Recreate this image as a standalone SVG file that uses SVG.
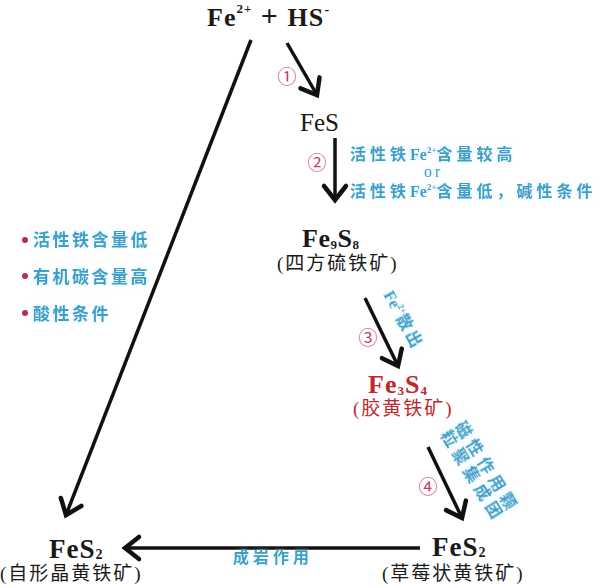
<svg xmlns="http://www.w3.org/2000/svg" width="600" height="588" viewBox="0 0 600 588">
<defs>
<marker id="ah" markerUnits="userSpaceOnUse" markerWidth="40" markerHeight="40" viewBox="-20 -20 40 40" refX="0" refY="0" orient="auto">
<path d="M-14,-11 L0,0 L-14,11" fill="none" stroke="#111" stroke-width="4.5" stroke-linecap="round" stroke-linejoin="miter"/>
</marker>
<filter id="glow" x="-10%" y="-30%" width="120%" height="160%">
<feGaussianBlur in="SourceAlpha" stdDeviation="2.5" result="b"/>
<feFlood flood-color="#bfe6f2" flood-opacity="0.6"/>
<feComposite in2="b" operator="in" result="g"/>
<feMerge><feMergeNode in="g"/><feMergeNode in="SourceGraphic"/></feMerge>
</filter>
</defs>
<style>
.chem{font-family:"Liberation Serif","Noto Sans CJK SC",serif;font-weight:bold;fill:#1a1a1a}
.reg{font-family:"Liberation Serif","Noto Sans CJK SC",serif;fill:#1a1a1a}
.par{font-family:"Liberation Serif","Noto Sans CJK SC",serif;font-size:19px;letter-spacing:2px;fill:#1a1a1a}
.blue{font-family:"Noto Sans CJK SC","Liberation Serif",sans-serif;font-size:16px;font-weight:bold;fill:#3a9fc8;letter-spacing:3px}
.bl{font-family:"Liberation Serif","Noto Sans CJK SC",serif;letter-spacing:0}
.num{font-family:"Noto Sans CJK SC",sans-serif;font-size:19px;fill:#c83c6a;text-anchor:middle}
.red{fill:#c0272d}
.ln{stroke:#111;stroke-width:3.5;fill:none;marker-end:url(#ah)}
</style>
<rect width="600" height="588" fill="#ffffff"/>

<g id="connectors">
<line class="ln" x1="251" y1="40" x2="66" y2="515"/>
<line class="ln" x1="287" y1="43" x2="317" y2="95"/>
<line class="ln" x1="335" y1="138" x2="335" y2="200"/>
<line class="ln" x1="365" y1="298" x2="398" y2="366"/>
<line class="ln" x1="428" y1="447" x2="462" y2="518"/>
<line class="ln" x1="420" y1="548" x2="125" y2="548"/>
</g>

<g id="node-start">
<text class="chem" x="207" y="26" font-size="26" letter-spacing="1">Fe<tspan font-size="13" dy="-13">2+</tspan><tspan dy="13" font-size="30"> + </tspan><tspan>HS</tspan><tspan font-size="15" dy="-12">-</tspan></text>
</g>

<g id="node-fes">
<text class="reg" x="300" y="131" font-size="25">FeS</text>
</g>

<g id="node-fe9s8">
<text class="chem" x="302" y="247" font-size="26" letter-spacing="0.5">Fe<tspan font-size="13" dy="2">9</tspan><tspan dy="-2">S</tspan><tspan font-size="13" dy="2">8</tspan></text>
<text class="par" x="277" y="270">(四方硫铁矿)</text>
</g>

<g id="node-fe3s4">
<text class="chem red" x="368" y="393" font-size="26" letter-spacing="1">Fe<tspan font-size="13" dy="2">3</tspan><tspan dy="-2">S</tspan><tspan font-size="13" dy="2">4</tspan></text>
<text class="par red" x="353" y="415">(胶黄铁矿)</text>
</g>

<g id="node-fes2-framboid">
<text class="chem" x="432" y="556" font-size="27" letter-spacing="1">FeS<tspan font-size="14" dy="1">2</tspan></text>
<text class="par" x="382" y="580">(草莓状黄铁矿)</text>
</g>

<g id="node-fes2-euhedral">
<text class="chem" x="49" y="558" font-size="27" letter-spacing="1">FeS<tspan font-size="14" dy="1">2</tspan></text>
<text class="par" x="0" y="580">(自形晶黄铁矿)</text>
</g>

<g id="labels">
<text class="num" x="287" y="84">①</text>
<text class="num" x="317" y="170">②</text>
<text class="num" x="368" y="345">③</text>
<text class="num" x="428" y="494">④</text>

<g filter="url(#glow)">
<text class="blue" x="350" y="160" style="letter-spacing:4px">活性铁<tspan class="bl">Fe</tspan><tspan class="bl" font-size="9" dy="-7">2+</tspan><tspan dy="7" style="letter-spacing:4px">含量较高</tspan></text>
<text class="blue bl" x="424" y="177" style="font-weight:normal;letter-spacing:3px">or</text>
<text class="blue" x="350" y="197" style="letter-spacing:4px">活性铁<tspan class="bl">Fe</tspan><tspan class="bl" font-size="9" dy="-7">2+</tspan><tspan dy="7" style="letter-spacing:4px">含量低，碱性条件</tspan></text>

<g transform="translate(404,320) rotate(61)">
<text class="blue" x="0" y="6" text-anchor="middle" letter-spacing="3"><tspan class="bl">Fe</tspan><tspan class="bl" font-size="9" dy="-7">2+</tspan><tspan dy="7">散出</tspan></text>
</g>

<g transform="translate(480,472) rotate(58)">
<text class="blue" x="0" y="-3" text-anchor="middle" style="letter-spacing:5px">磁性作用颗</text>
<text class="blue" x="0" y="14" text-anchor="middle" style="letter-spacing:5px">粒聚集成团</text>
</g>

<text class="blue" x="233" y="563" style="letter-spacing:4px">成岩作用</text>

<text class="blue" x="33" y="246" style="font-size:17px;letter-spacing:2.5px">活性铁含量低</text>
<text class="blue" x="33" y="283" style="font-size:17px;letter-spacing:2.5px">有机碳含量高</text>
<text class="blue" x="33" y="320" style="font-size:17px;letter-spacing:2.5px">酸性条件</text>
</g>
<circle cx="25" cy="240" r="3" fill="#b03050"/>
<circle cx="25" cy="276" r="3" fill="#b03050"/>
<circle cx="25" cy="313" r="3" fill="#b03050"/>
</g>
</svg>
